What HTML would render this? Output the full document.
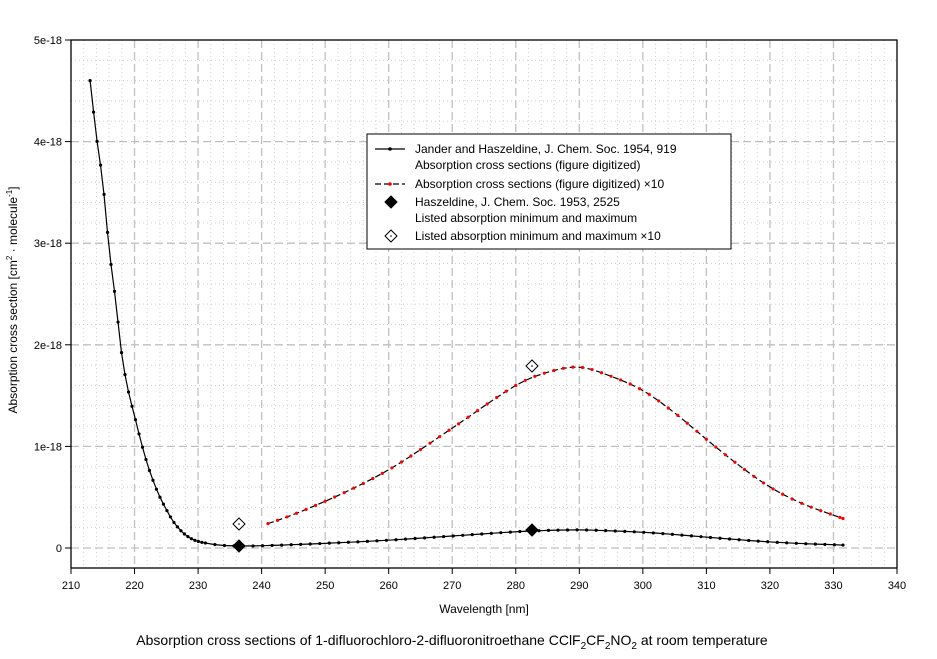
<!DOCTYPE html>
<html><head><meta charset="utf-8">
<style>
html,body{margin:0;padding:0;background:#fff;}
svg{display:block;font-family:"Liberation Sans",Arial,sans-serif;}
</style></head>
<body>
<svg id="s" width="937" height="659" xmlns="http://www.w3.org/2000/svg">
</svg>
<script>
const S=document.getElementById('s');
const NS='http://www.w3.org/2000/svg';
function el(t,a,txt){const e=document.createElementNS(NS,t);for(const k in a)e.setAttribute(k,a[k]);if(txt!==undefined)e.textContent=txt;S.appendChild(e);return e;}
const X=l=>71+(l-210)*826/130;
const Y=v=>548-v*101.6;
// grid
for(let l=212;l<340;l+=2){const maj=(l%10===0);
 el('line',{x1:X(l),x2:X(l),y1:40,y2:568,stroke:maj?'#c0c0c0':'#d0d0d0','stroke-width':maj?1.3:1,'stroke-dasharray':maj?'8,4':'1,3'});}
for(let i=-1;i<25;i++){const v=i*0.2;const y=Y(v);if(y<=40.5||y>=567)continue;const maj=(i%5===0);
 el('line',{x1:71,x2:897,y1:y,y2:y,stroke:maj?'#c0c0c0':'#d0d0d0','stroke-width':maj?1.3:1,'stroke-dasharray':maj?'8,4':'1,3'});}
// frame
el('rect',{x:71,y:40,width:826,height:528,fill:'none',stroke:'#000','stroke-width':1.3});
// ticks
for(let l=210;l<=340;l+=10){el('line',{x1:X(l),x2:X(l),y1:568,y2:574,stroke:'#000'});
 el('text',{x:X(l),y:589,'font-size':11,'text-anchor':'middle'},String(l));}
const yl=['0','1e-18','2e-18','3e-18','4e-18','5e-18'];
for(let i=0;i<=5;i++){el('line',{x1:65,x2:71,y1:Y(i),y2:Y(i),stroke:'#000'});
 el('text',{x:62,y:Y(i)+4,'font-size':11,'text-anchor':'end'},yl[i]);}
el('text',{x:484,y:613,'font-size':12,'text-anchor':'middle'},'Wavelength [nm]');
const t=el('text',{x:0,y:0,'font-size':12,'text-anchor':'middle',transform:'translate(17,300) rotate(-90)'});
t.innerHTML='Absorption cross section [cm<tspan dy="-5" font-size="8">2</tspan><tspan dy="5"> · molecule</tspan><tspan dy="-5" font-size="8">-1</tspan><tspan dy="5">]</tspan>';
const tt=el('text',{x:452,y:645,'font-size':14,'text-anchor':'middle'});
tt.innerHTML='Absorption cross sections of 1-difluorochloro-2-difluoronitroethane CClF<tspan dy="4" font-size="10">2</tspan><tspan dy="-4">CF</tspan><tspan dy="4" font-size="10">2</tspan><tspan dy="-4">NO</tspan><tspan dy="4" font-size="10">2</tspan><tspan dy="-4"> at room temperature</tspan>';
// data
const C=[[213,4.6],[214,4.05],[215,3.6],[216,2.95],[217,2.45],[218,1.9],[219,1.55],[220,1.3],[221,1.05],[222,0.83],[223,0.65],[224,0.5],[225,0.38],[226,0.27],[227,0.19],[228,0.13],[229,0.09],[230,0.065],[232,0.04],[234,0.025],[236.5,0.02],[240,0.022],[250,0.046],[260,0.077],[270,0.118],[280,0.16],[285,0.173],[290,0.178],[295,0.169],[300,0.155],[305,0.133],[310,0.107],[315,0.082],[320,0.06],[325,0.044],[331.5,0.029]];
function f(l){for(let i=0;i<C.length-1;i++){if(l>=C[i][0]&&l<=C[i+1][0]){const p0=C[Math.max(0,i-1)],p1=C[i],p2=C[i+1],p3=C[Math.min(C.length-1,i+2)];
 const u=(l-p1[0])/(p2[0]-p1[0]);const h=p2[0]-p1[0];
 const m1=(p2[1]-p0[1])/(p2[0]-p0[0])*h,m2=(p3[1]-p1[1])/(p3[0]-p1[0])*h;
 const u2=u*u,u3=u2*u;return (2*u3-3*u2+1)*p1[1]+(u3-2*u2+u)*m1+(-2*u3+3*u2)*p2[1]+(u3-u2)*m2;}}return 0;}
let bp=[];for(let l=213;l<=331.5;l+=(l<231?0.55:1.5))bp.push(l);bp.push(331.5);
let d='';bp.forEach((l,i)=>{d+=(i?'L':'M')+X(l).toFixed(1)+','+Y(f(l)).toFixed(1);});
el('path',{d:d,fill:'none',stroke:'#000','stroke-width':1.2});
bp.forEach(l=>el('circle',{cx:X(l),cy:Y(f(l)),r:1.6,fill:'#000'}));
let rp=[];for(let l=241;l<=331.5;l+=1.5)rp.push(l);rp.push(331.5);
let d2='';rp.forEach((l,i)=>{d2+=(i?'L':'M')+X(l).toFixed(1)+','+Y(10*f(l)).toFixed(1);});
el('path',{d:d2,fill:'none',stroke:'#000','stroke-width':1.2,'stroke-dasharray':'6,3'});
rp.forEach(l=>el('circle',{cx:X(l),cy:Y(10*f(l)),r:1.6,fill:'#f00'}));
function dia(x,y,r,fill){el('path',{d:`M${x},${y-r}L${x+r},${y}L${x},${y+r}L${x-r},${y}Z`,fill:fill,stroke:'#000','stroke-width':1});
 if(fill==='#fff')el('circle',{cx:x,cy:y,r:0.8,fill:'#000'});}
dia(239,546,6,'#000');dia(532,530,6,'#000');
dia(239,524,6,'#fff');dia(532,366,6,'#fff');
// legend
el('rect',{x:367,y:134,width:364,height:115,fill:'#fff',stroke:'#000','stroke-width':1});
el('line',{x1:375,x2:405,y1:149,y2:149,stroke:'#000','stroke-width':1.2});el('circle',{cx:390,cy:149,r:1.8,fill:'#000'});
el('line',{x1:375,x2:405,y1:184,y2:184,stroke:'#000','stroke-width':1.2,'stroke-dasharray':'6,3'});el('circle',{cx:390,cy:184,r:1.8,fill:'#f00'});
dia(391,202,6,'#000');dia(391,236,6,'#fff');
const L=[['Jander and Haszeldine, J. Chem. Soc. 1954, 919',153],['Absorption cross sections (figure digitized)',169],['Absorption cross sections (figure digitized) ×10',188],['Haszeldine, J. Chem. Soc. 1953, 2525',206],['Listed absorption minimum and maximum',222],['Listed absorption minimum and maximum ×10',240]];
L.forEach(a=>el('text',{x:415,y:a[1],'font-size':12},a[0]));
</script>
</body></html>
